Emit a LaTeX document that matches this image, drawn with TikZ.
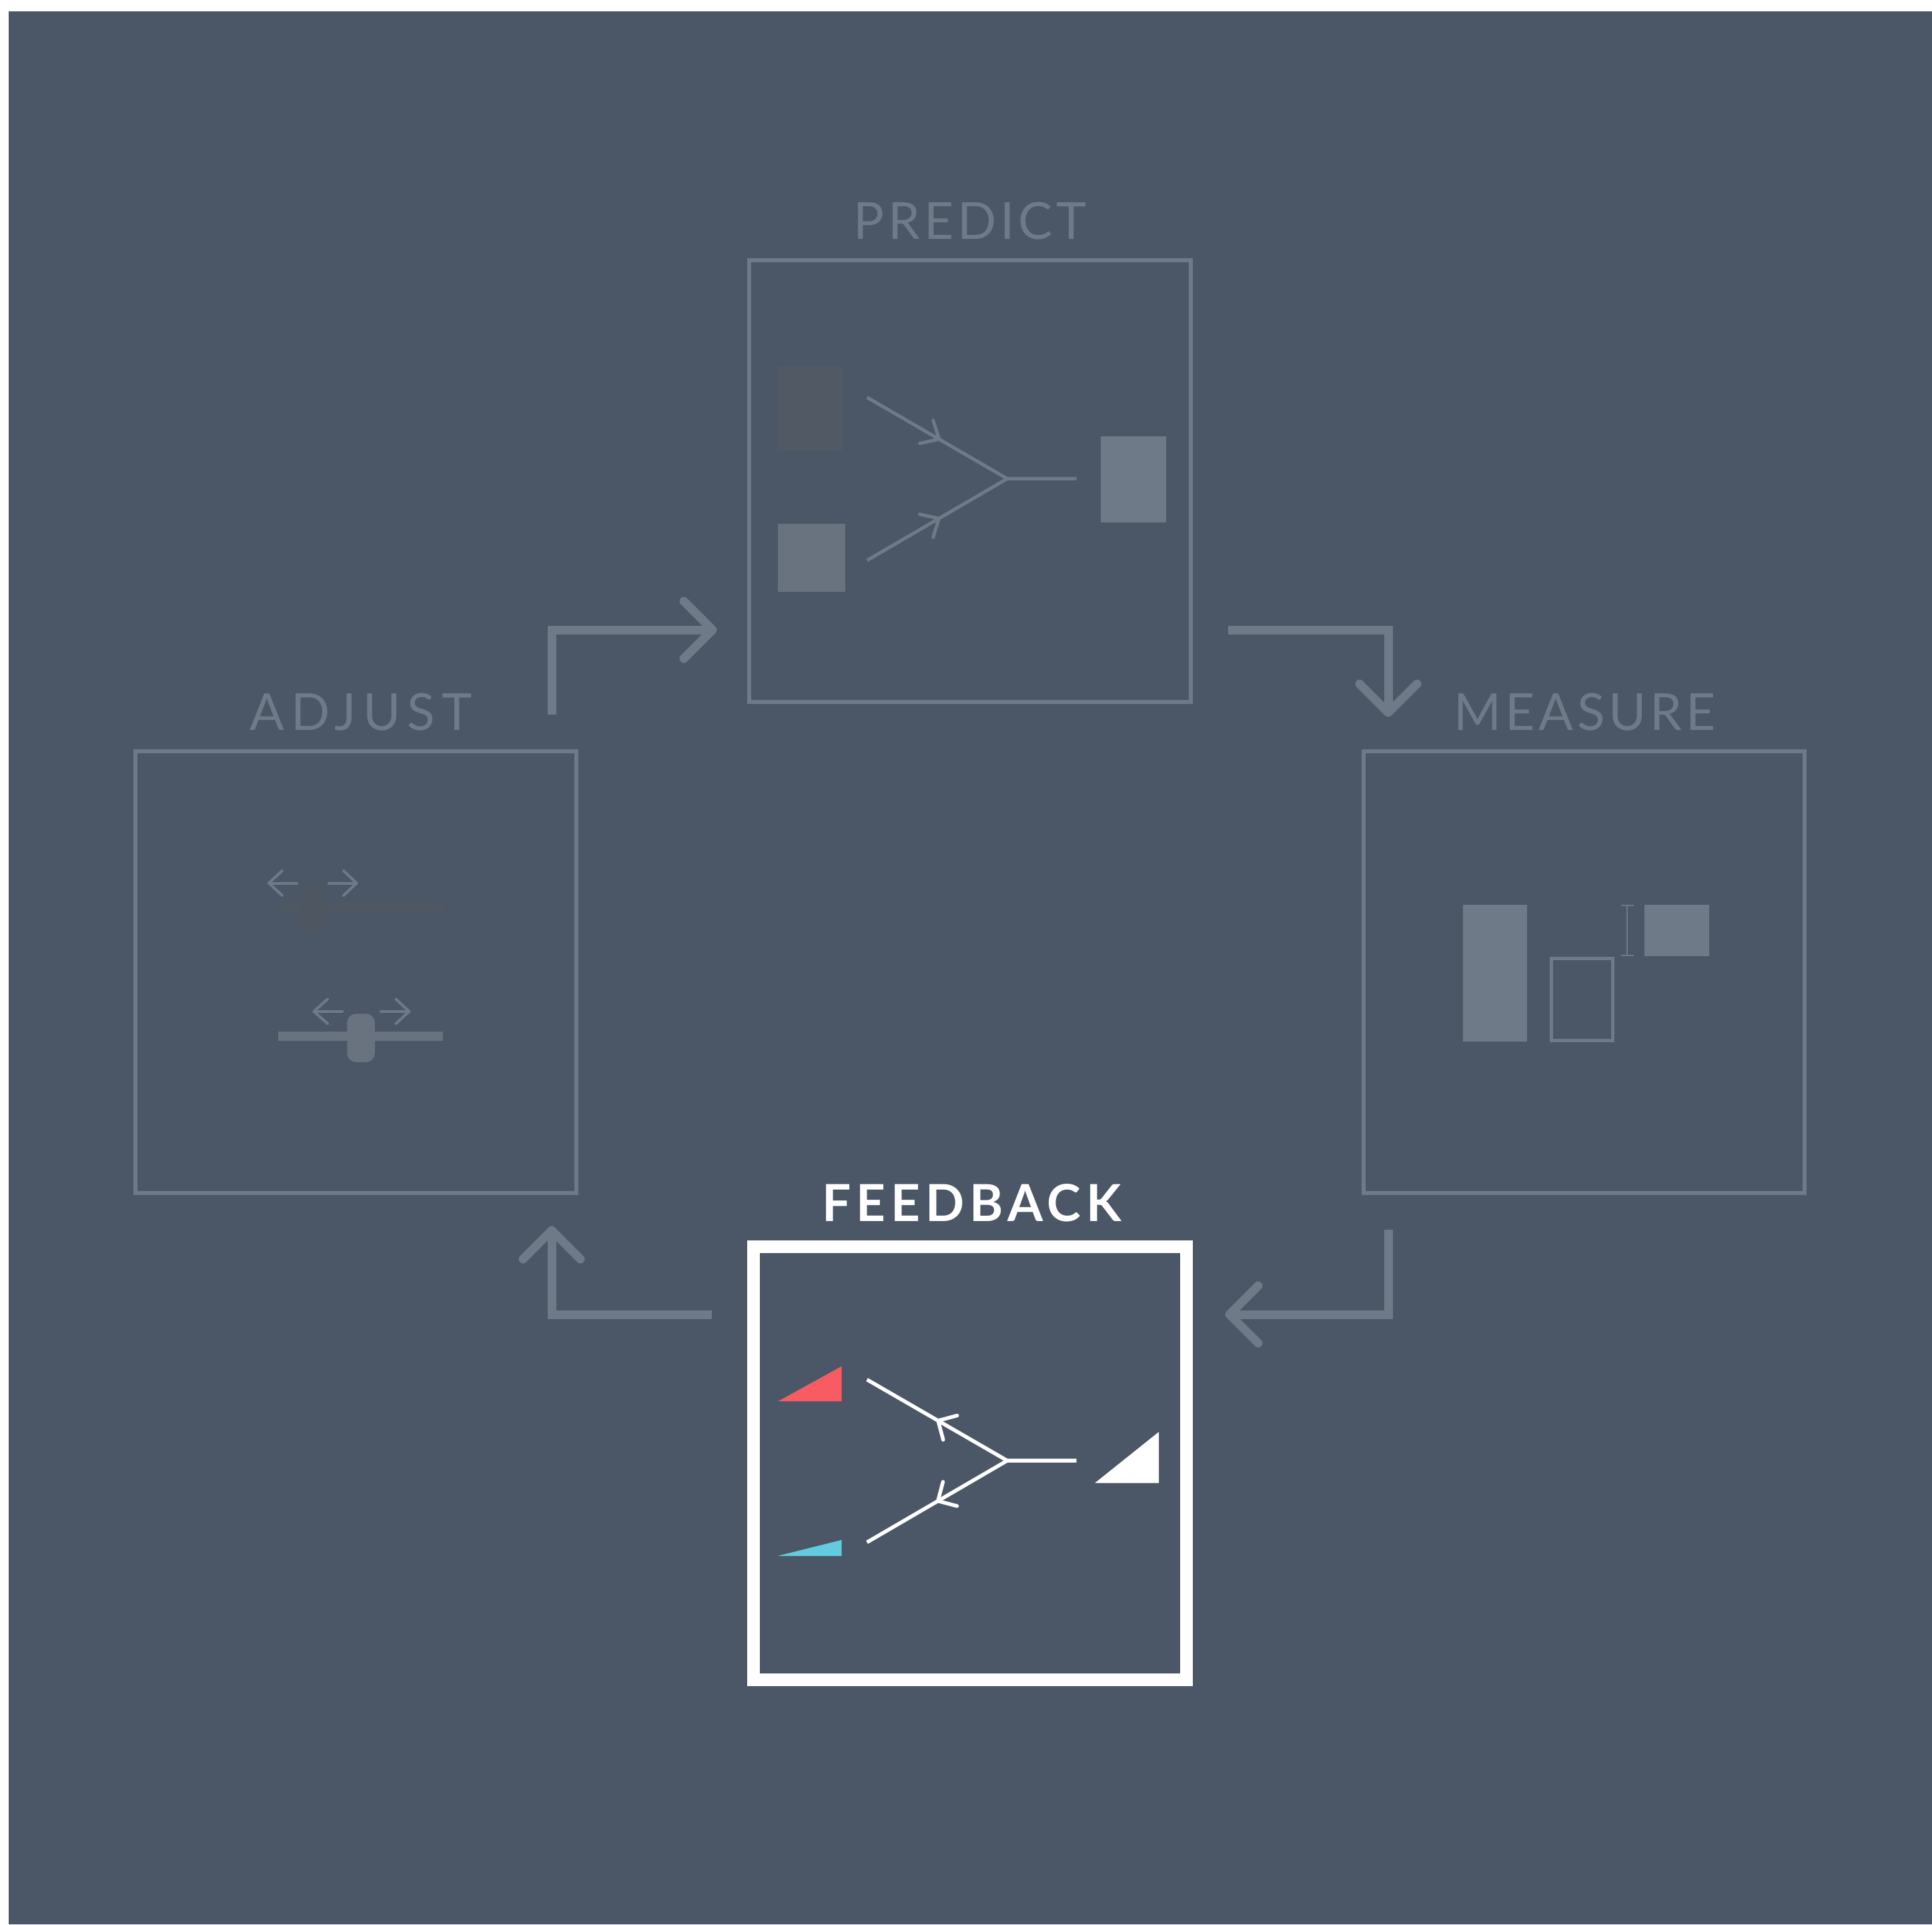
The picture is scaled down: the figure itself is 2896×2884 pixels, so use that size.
\documentclass[tikz,border=0pt]{standalone}
\usepackage{fontspec}
\setmainfont{Lato}
\newfontfamily\labelfont[LetterSpace=10]{Lato}
\newfontfamily\labelfontwide[LetterSpace=13]{Lato}
\newfontfamily\labelfontnarrow[LetterSpace=7.5]{Lato}
\usetikzlibrary{calc,decorations.markings}

\definecolor{bg}{HTML}{4B5766}
\definecolor{ink}{HTML}{6E7A87}
\definecolor{inkdim}{HTML}{68737F}
\definecolor{ghost}{HTML}{515A64}
\definecolor{ghostslide}{HTML}{4F5862}
\definecolor{ghostknob}{HTML}{4D5661}
\definecolor{warm}{HTML}{F65C61}
\definecolor{cool}{HTML}{62CBDD}

\begin{document}
\begin{tikzpicture}[x=0.1mm,y=-0.1mm,
  panel/.style={draw=ink, line width=0.6mm, minimum size=66.15mm, inner sep=0pt, outer sep=0pt},
  activepanel/.style={draw=white, line width=1.9mm, minimum size=64.85mm, inner sep=0pt, outer sep=0pt},
  steplabel/.style={text=ink, font=\labelfont\fontsize{21.8}{26}\selectfont, anchor=base west, inner sep=0pt},
  flow/.style={draw=ink, line width=1.3mm, line join=miter},
  flowhead/.style={draw=ink, line width=1.3mm, line cap=round, line join=round},
  wire/.style={line width=0.5mm, line join=miter},
  wirehead/.style={line width=0.5mm, line cap=round, line join=round},
  tinyarrow/.style={draw=ink, line width=0.4mm, line cap=round, line join=round},
]
\useasboundingbox (0,0) rectangle (2896,2884);
\fill[bg] (13,17) rectangle (2896,2884);

% ---- the four stages ----
\node[panel] (adjust) at (533.5,1457) {};
\node[panel] (predict) at (1453.75,720.75) {};
\node[panel] (measure) at (2374.5,1457) {};
\node[activepanel] (feedback) at (1453.75,2193) {};

\node[steplabel, font=\labelfontnarrow\fontsize{21.8}{26}\selectfont] (predictLabel) at (1279,358) {PREDICT};
\node[steplabel, font=\labelfontwide\fontsize{21.8}{26}\selectfont] (adjustLabel) at (374,1094.4) {ADJUST};
\node[steplabel, font=\labelfontnarrow\fontsize{21.8}{26}\selectfont] (measureLabel) at (2179,1094.4) {MEASURE};
\node[steplabel, text=white, font=\labelfont\bfseries\fontsize{21.8}{26}\selectfont] (feedbackLabel) at (1232,1830.8) {FEEDBACK};

% ---- cycle arrows ----
\coordinate (a1from) at (827,1071);  \coordinate (a1to) at (1068,944);
\coordinate (a2from) at (1841,944);  \coordinate (a2to) at (2081,1068);
\coordinate (a3from) at (2081,1843); \coordinate (a3to) at (1843,1970);
\coordinate (a4from) at (1067,1970); \coordinate (a4to) at (827,1844);

\draw[flow] (a1from) |- (a1to);
\draw[flowhead] ($(a1to)+(-43,-43)$) -- (a1to) -- ($(a1to)+(-43,43)$);
\draw[flow] (a2from) -| (a2to);
\draw[flowhead] ($(a2to)+(-43,-43)$) -- (a2to) -- ($(a2to)+(43,-43)$);
\draw[flow] (a3from) |- (a3to);
\draw[flowhead] ($(a3to)+(43,-43)$) -- (a3to) -- ($(a3to)+(43,43)$);
\draw[flow] (a4from) -| (a4to);
\draw[flowhead] ($(a4to)+(-43,43)$) -- (a4to) -- ($(a4to)+(43,43)$);

% ---- predict: two inputs merge into one output ----
\fill[ghost] (1165.7,549) rectangle (1261.7,675.7);
\fill[inkdim] (1165.6,785) rectangle (1267.4,887);
\fill[ink] (1650,654) rectangle (1747.8,782.8);
\coordinate (pA) at (1299.6,595.5);
\coordinate (pB) at (1299.6,839.9);
\coordinate (pJ) at (1509.8,717.4);
\coordinate (pE) at (1613.4,717.4);
\draw[wire, draw=ink, postaction={decorate}, decoration={markings,
  mark=at position 12.5mm with {\draw[wirehead, draw=ink] (-2.2mm,2mm) -- (0,0) -- (-2.2mm,-2mm);}}]
  (pA) -- (pJ) -- (pE);
\draw[wire, draw=ink, postaction={decorate}, decoration={markings,
  mark=at position 12.5mm with {\draw[wirehead, draw=ink] (-2.2mm,2mm) -- (0,0) -- (-2.2mm,-2mm);}}]
  (pB) -- (pJ) -- (pE);

% ---- measure: bars and the gap between them ----
\fill[ink] (2193,1355.6) rectangle (2289.4,1561.2);
\draw[ink, line width=0.5mm] (2325.5,1436.3) rectangle (2417,1559);
\fill[ink] (2464.8,1355.6) rectangle (2561.7,1433.2);
\draw[ink, line width=0.2mm] (2439.4,1357) -- (2439.4,1432)
  (2430,1357) -- (2449,1357) (2430,1432) -- (2449,1432);

% ---- feedback: error flows back to the inputs ----
\fill[warm] (1166,2100.2) -- (1261.6,2047.6) -- (1261.6,2100.2) -- cycle;
\fill[cool] (1166,2331.8) -- (1261.6,2307.9) -- (1261.6,2331.8) -- cycle;
\fill[white] (1641,2222.7) -- (1737,2146) -- (1737,2222.7) -- cycle;
\coordinate (fA) at (1299.6,2067.6);
\coordinate (fB) at (1299.6,2311.4);
\coordinate (fJ) at (1509.8,2189);
\coordinate (fE) at (1613.4,2189);
\draw[wire, line width=0.55mm, draw=white, postaction={decorate}, decoration={markings,
  mark=at position 12.3mm with {\draw[wirehead, line width=0.55mm, draw=white] (2.1mm,2.1mm) -- (0,0) -- (2.1mm,-2.1mm);}}]
  (fA) -- (fJ) -- (fE);
\draw[wire, line width=0.55mm, draw=white, postaction={decorate}, decoration={markings,
  mark=at position 12.3mm with {\draw[wirehead, line width=0.55mm, draw=white] (2.1mm,2.1mm) -- (0,0) -- (2.1mm,-2.1mm);}}]
  (fB) -- (fJ) -- (fE);

% ---- adjust: sliders moved left and right ----
\fill[ghostslide] (420,1354) rectangle (666,1366);
\fill[ghostknob, rounded corners=1.3mm] (448.3,1326) rectangle (488.3,1396.7);
\draw[tinyarrow] (445,1323.5) -- (403,1323.5);
\draw[tinyarrow] (423,1305) -- (403,1323.5) -- (423,1342);
\draw[tinyarrow] (492.7,1323.5) -- (534.5,1323.5);
\draw[tinyarrow] (515,1305) -- (534.5,1323.5) -- (515,1342);

\fill[inkdim] (416.8,1546) rectangle (664,1560.2);
\fill[inkdim, rounded corners=1.3mm] (520.4,1519.4) rectangle (561.9,1591.8);
\draw[tinyarrow] (513.2,1515.8) -- (470.4,1515.8);
\draw[tinyarrow] (491,1497.4) -- (470.4,1515.8) -- (491,1534);
\draw[tinyarrow] (570.8,1515.8) -- (613.2,1515.8);
\draw[tinyarrow] (593.6,1497.4) -- (613.2,1515.8) -- (593.6,1534);
\end{tikzpicture}
\end{document}
